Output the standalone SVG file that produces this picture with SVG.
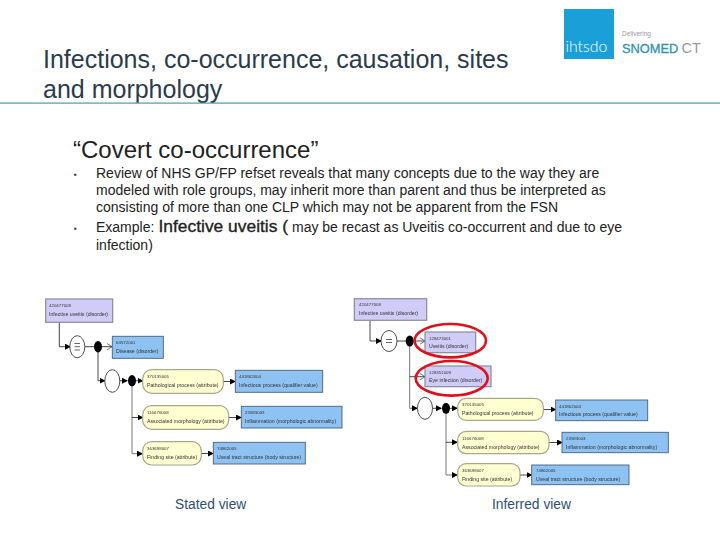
<svg xmlns="http://www.w3.org/2000/svg" width="720" height="540" viewBox="0 0 720 540">
<style>
text{font-family:"Liberation Sans",Arial,sans-serif}
.t{font-size:25px;fill:#2b3b4d}
.h{font-size:24px;fill:#222}
.b{font-size:14px;fill:#222}
.big{font-size:17.4px;stroke:#222;stroke-width:.35}
.cap{font-size:13.8px;fill:#2f4f6f}
.c{fill:#d0ccf8;stroke:#8a8a9a;stroke-width:1.2}
.v{fill:#8ec2f2;stroke:#4a6078;stroke-width:.9}
.a{fill:#ffffd2;stroke:#a8a68c;stroke-width:1.2}
.e{fill:#fff;stroke:#222;stroke-width:.8}
.d{fill:#000}
.l{fill:none;stroke:#333;stroke-width:.9}
.g{fill:none;stroke:#777;stroke-width:1}
.o{fill:none;stroke:#e00f1c;stroke-width:2.6}
.n{font-size:4.4px;fill:#333}
.s{font-size:5.2px;fill:#333}
</style>
<defs>
<marker id="f" markerWidth="6" markerHeight="6" refX="5" refY="3" orient="auto" markerUnits="userSpaceOnUse"><path d="M0 0L6 3L0 6z" fill="#000"/></marker>
<marker id="p" markerWidth="6" markerHeight="8" refX="5.5" refY="4" orient="auto" markerUnits="userSpaceOnUse"><path d="M0 .5L5.5 4L0 7.5" fill="none" stroke="#333" stroke-width=".7"/></marker>
<filter id="bl" x="-5%" y="-5%" width="110%" height="110%"><feGaussianBlur stdDeviation=".3"/></filter>
</defs>

<g id="title">
<text class="t" x="43" y="68">Infections, co-occurrence, causation, sites</text>
<text class="t" x="43" y="98">and morphology</text>
<rect x="0" y="102.5" width="720" height="1.2" fill="#4f9c9f"/>
</g>
<g id="logo">
<rect x="564" y="9" width="50" height="50" fill="#1a9fd9"/>
<text x="565.5" y="52" font-size="15.8" fill="#fff" style="font-family:Lato,sans-serif;font-weight:300">ihtsdo</text>
<text x="622" y="36" font-size="6.5" fill="#999">Delivering</text>
<text x="622" y="52.5" font-size="12.8" fill="#2e93ad" stroke="#2e93ad" stroke-width=".3">SNOMED</text>
<text x="681.5" y="52.5" font-size="14.5" fill="#999">CT</text>
</g>
<g id="body">
<text class="h" x="73" y="158">“Covert co-occurrence”</text>
<text class="b" x="74" y="177" style="font-size:8px">▪</text>
<text class="b" x="96" y="177.5">Review of NHS GP/FP refset reveals that many concepts due to the way they are</text>
<text class="b" x="96" y="194.5">modeled with role groups, may inherit more than parent and thus be interpreted as</text>
<text class="b" x="96" y="211.5">consisting of more than one CLP which may not be apparent from the FSN</text>
<text class="b" x="74" y="231" style="font-size:8px">▪</text>
<text class="b" x="96" y="231.5">Example: <tspan class="big" x="158.5">Infective uveitis (</tspan><tspan x="292" textLength="330" lengthAdjust="spacing">may be recast as Uveitis co-occurrent and due to eye</tspan></text>
<text class="b" x="96" y="249.5">infection)</text>
</g>

<g id="connectors-left" filter="url(#bl)">
<path class="l" d="M59.3 322V346.7H70" marker-end="url(#f)"/>
<path class="l" d="M84.8 346.7H98"/>
<path class="l" d="M98 346.7H112" marker-end="url(#p)"/>
<path class="l" d="M98 346.7V380.7H104.5" marker-end="url(#f)"/>
<path class="l" d="M119.8 380.7H127" marker-end="url(#f)"/>
<path class="g" d="M132 380.7V453.7H142" marker-end="url(#f)"/>
<path class="l" d="M132 380.7H142.5" marker-end="url(#f)"/>
<path class="l" d="M132 417.5H142.5" marker-end="url(#f)"/>
<path class="l" d="M223.3 381.5H235" marker-end="url(#f)"/>
<path class="l" d="M228.7 417.5H241" marker-end="url(#f)"/>
<path class="l" d="M201.3 453.5H213" marker-end="url(#f)"/>
</g>
<g id="connectors-right" filter="url(#bl)">
<path class="l" d="M370 320.3V341H381" marker-end="url(#f)"/>
<path class="l" d="M397 341H409.7"/>
<path class="l" d="M409.7 341H425" marker-end="url(#p)"/>
<path class="g" d="M409.7 341V408.3H417" marker-end="url(#f)"/>
<path class="l" d="M409.7 376.7H425" marker-end="url(#p)"/>
<path class="l" d="M432.5 408.3H441" marker-end="url(#f)"/>
<path class="l" d="M446 408.3H457" marker-end="url(#f)"/>
<path class="g" d="M446 408.3V475H457" marker-end="url(#f)"/>
<path class="l" d="M446 442.3H457" marker-end="url(#f)"/>
<path class="l" d="M543.3 409.5H555.5" marker-end="url(#f)"/>
<path class="l" d="M549 442.5H562" marker-end="url(#f)"/>
<path class="l" d="M520 475H531.5" marker-end="url(#f)"/>
</g>

<g id="stated-root" filter="url(#bl)"><rect class="c" x="45.7" y="299" width="67" height="23.3"/><text class="n" x="49" y="307">420477008</text><text class="s" x="49" y="316">Infective uveitis (disorder)</text></g>
<g id="stated-eq" filter="url(#bl)"><ellipse class="e" cx="77.3" cy="346.7" rx="7.5" ry="11"/><path d="M74.5 343.5H80M74.5 346.7H80M74.5 350H80" stroke="#222" stroke-width=".7"/></g>
<g id="stated-dot1"><ellipse class="d" cx="98" cy="346.7" rx="4" ry="5.7"/></g>
<g id="stated-disease" filter="url(#bl)"><rect class="v" x="112.3" y="336.3" width="51" height="22"/><text class="n" x="116" y="344">64572001</text><text class="s" x="116" y="353">Disease (disorder)</text></g>
<g id="stated-group" filter="url(#bl)"><ellipse class="e" cx="112.3" cy="381" rx="7.5" ry="11.3"/></g>
<g id="stated-dot2"><ellipse class="d" cx="132" cy="380.7" rx="4" ry="5.7"/></g>
<g id="stated-a1" filter="url(#bl)"><rect class="a" x="142.7" y="369.7" width="80.6" height="23.6" rx="9"/><text class="n" x="147" y="378">370135005</text><text class="s" x="147" y="387">Pathological process (attribute)</text></g>
<g id="stated-v1" filter="url(#bl)"><rect class="v" x="235.3" y="370.3" width="87.4" height="22"/><text class="n" x="239" y="378">441862004</text><text class="s" x="239" y="387">Infectious process (qualifier value)</text></g>
<g id="stated-a2" filter="url(#bl)"><rect class="a" x="142.7" y="405.7" width="86" height="23.6" rx="9"/><text class="n" x="147" y="414">116676008</text><text class="s" x="147" y="423">Associated morphology (attribute)</text></g>
<g id="stated-v2" filter="url(#bl)"><rect class="v" x="241.3" y="406.3" width="100.7" height="21.7"/><text class="n" x="245" y="414">23583003</text><text class="s" x="245" y="423">Inflammation (morphologic abnormality)</text></g>
<g id="stated-a3" filter="url(#bl)"><rect class="a" x="142.7" y="441.7" width="58.6" height="23.3" rx="9"/><text class="n" x="147" y="450">363698007</text><text class="s" x="147" y="459">Finding site (attribute)</text></g>
<g id="stated-v3" filter="url(#bl)"><rect class="v" x="213.3" y="442.3" width="92" height="21.7"/><text class="n" x="217" y="450">74862005</text><text class="s" x="217" y="459">Uveal tract structure (body structure)</text></g>

<g id="inferred-root" filter="url(#bl)"><rect class="c" x="354.3" y="298.7" width="72.4" height="21.6"/><text class="n" x="359" y="306">420477008</text><text class="s" x="359" y="315">Infective uveitis (disorder)</text></g>
<g id="inferred-eq" filter="url(#bl)"><ellipse class="e" cx="389" cy="341" rx="8" ry="10.5"/><path d="M386 339.5H392M386 342.5H392" stroke="#222" stroke-width=".7"/></g>
<g id="inferred-dot1"><ellipse class="d" cx="409.7" cy="341" rx="4" ry="5.5"/></g>
<g id="inferred-uveitis" filter="url(#bl)"><rect class="c" x="425" y="332" width="50.7" height="20.7"/><text class="n" x="429" y="339.5">128473001</text><text class="s" x="429" y="348">Uveitis (disorder)</text></g>
<g id="inferred-eye" filter="url(#bl)"><rect class="c" x="425" y="366" width="66" height="20.7"/><text class="n" x="429" y="373.5">128351009</text><text class="s" x="429" y="382">Eye infection (disorder)</text></g>
<g id="highlight-uveitis"><ellipse class="o" cx="450.3" cy="340.7" rx="35.7" ry="16.7"/></g>
<g id="highlight-eye"><ellipse class="o" cx="451.7" cy="378.3" rx="36" ry="17.3"/></g>
<g id="inferred-group" filter="url(#bl)"><ellipse class="e" cx="425" cy="408.3" rx="7.5" ry="11"/></g>
<g id="inferred-dot2"><ellipse class="d" cx="446" cy="408.3" rx="4" ry="5.5"/></g>
<g id="inferred-a1" filter="url(#bl)"><rect class="a" x="457.7" y="398.3" width="85.6" height="22" rx="8.5"/><text class="n" x="462" y="406">370135005</text><text class="s" x="462" y="415">Pathological process (attribute)</text></g>
<g id="inferred-v1" filter="url(#bl)"><rect class="v" x="555.7" y="400" width="92" height="20.7"/><text class="n" x="559" y="407.5">441862004</text><text class="s" x="559" y="416">Infectious process (qualifier value)</text></g>
<g id="inferred-a2" filter="url(#bl)"><rect class="a" x="457.7" y="431.3" width="91.3" height="22.4" rx="8.5"/><text class="n" x="462" y="439.5">116676008</text><text class="s" x="462" y="448.5">Associated morphology (attribute)</text></g>
<g id="inferred-v2" filter="url(#bl)"><rect class="v" x="562" y="432.3" width="106.3" height="20.4"/><text class="n" x="566" y="440">23583003</text><text class="s" x="566" y="448.5">Inflammation (morphologic abnormality)</text></g>
<g id="inferred-a3" filter="url(#bl)"><rect class="a" x="457.7" y="463.7" width="62.3" height="22.3" rx="8.5"/><text class="n" x="462" y="472">363698007</text><text class="s" x="462" y="481">Finding site (attribute)</text></g>
<g id="inferred-v3" filter="url(#bl)"><rect class="v" x="531.7" y="465" width="97.3" height="19.7"/><text class="n" x="536" y="472">74862005</text><text class="s" x="536" y="480.5">Uveal tract structure (body structure)</text></g>

<text class="cap" x="175" y="509">Stated view</text>
<text class="cap" x="492" y="509">Inferred view</text>
</svg>
